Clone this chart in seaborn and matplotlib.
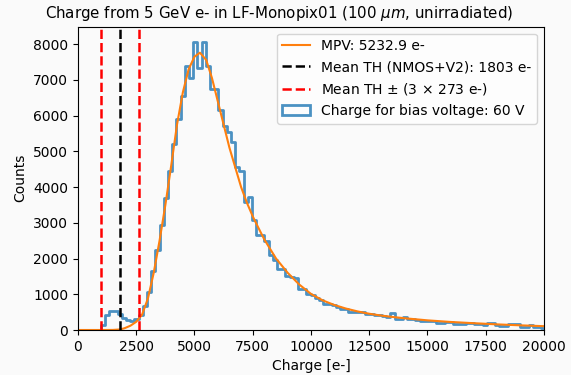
import numpy as np
import pandas as pd
import matplotlib
matplotlib.use("Agg")
import matplotlib.pyplot as plt
import seaborn as sns
from matplotlib.patches import Patch
from matplotlib.lines import Line2D

# Histogram: bins of 180 e- starting at 984 e- (counts)
bin_start = 984
bin_width = 180
counts = [
    130, 430, 520, 545, 460, 340, 275, 265, 300, 420,
    680, 1050, 1650, 2250, 2950, 3700, 4450, 5200, 5900, 6550,
    7400, 7050, 8070, 7320, 8070, 7400, 6750, 6750, 6170, 5700,
    5540, 5260, 4560, 4450, 3580, 3720, 3070, 2650, 2650, 2500,
    2090, 1950, 1710, 1710, 1500, 1480, 1460, 1160, 1140, 1000,
    990, 900, 845, 720, 715, 710, 650, 595, 590, 505,
    500, 500, 495, 450, 435, 430, 420, 378, 375, 470,
    315, 310, 360, 320, 310, 290, 250, 250, 245, 240,
    205, 200, 230, 225, 175, 175, 170, 195, 190, 155,
    155, 150, 205, 200, 130, 125, 125, 165, 170, 165,
    85, 90, 140, 80, 70, 65,
]

# Langau fit curve, sampled points
fit_x = [0, 1000, 1500, 1800, 2000, 2250, 2500, 2750, 3000, 3250, 3500, 3750,
         4000, 4250, 4500, 4750, 5000, 5233, 5500, 5750, 6000, 6250, 6500,
         6750, 7000, 7250, 7500, 7750, 8000, 8500, 9000, 9500, 10000, 10500,
         11000, 11500, 12000, 12500, 13000, 13500, 14000, 15000, 16000, 17000,
         18000, 19000, 20000]
fit_y = [0, 0, 2, 15, 50, 120, 230, 430, 880, 1600, 2500, 3500,
         4600, 5750, 6650, 7300, 7650, 7760, 7560, 7050, 6400, 5750, 5100,
         4550, 4000, 3560, 3180, 2850, 2530, 2000, 1600, 1270, 1010, 830,
         700, 600, 520, 455, 405, 365, 330, 270, 225, 190,
         157, 130, 107]

mpv = 5232.9
mean_th = 1803
th_sigma = 273

edges = (bin_start - bin_width + bin_width * np.arange(len(counts) + 2)).tolist()
centers = [e + bin_width / 2 for e in edges[:-1]]
hist_df = pd.DataFrame({"charge": centers, "counts": [0] + counts})
fit_df = pd.DataFrame({"charge": fit_x, "counts": fit_y})

bg = "#fafafa"
fig, ax = plt.subplots(figsize=(5.71, 3.75), dpi=100)
fig.patch.set_facecolor(bg)
ax.set_facecolor(bg)
fig.subplots_adjust(left=0.1366, right=0.9527, bottom=0.12, top=0.929)

hist_color = "#1f77b4"
sns.histplot(data=hist_df, x="charge", weights="counts", bins=edges,
             element="step", fill=False, color=hist_color, alpha=0.8,
             linewidth=2, ax=ax)
sns.lineplot(data=fit_df, x="charge", y="counts", color="#ff7f0e",
             linewidth=1.5, ax=ax)

ax.axvline(mean_th, color="black", ls="--", lw=1.8)
ax.axvline(mean_th - 3 * th_sigma, color="red", ls="--", lw=1.8)
ax.axvline(mean_th + 3 * th_sigma, color="red", ls="--", lw=1.8)

ax.set_xlim(0, 20000)
ax.set_ylim(0, 8490)
ax.set_xlabel("Charge [e-]")
ax.set_ylabel("Counts")
ax.set_title("Charge from 5 GeV e- in LF-Monopix01 (100 $\\mu m$, unirradiated)",
             fontsize=10.8, x=0.431)

handles = [
    Line2D([], [], color="#ff7f0e", lw=1.5),
    Line2D([], [], color="black", ls="--", lw=1.8),
    Line2D([], [], color="red", ls="--", lw=1.8),
    Patch(facecolor="none", edgecolor=hist_color, alpha=0.8, lw=2),
]
labels = [
    f"MPV: {mpv:.1f} e-",
    f"Mean TH (NMOS+V2): {mean_th} e-",
    f"Mean TH $\\pm$ (3 $\\times$ {th_sigma} e-)",
    "Charge for bias voltage: 60 V",
]
ax.legend(handles, labels, loc="upper right")

fig.savefig("out.png", dpi=100, facecolor=bg)
